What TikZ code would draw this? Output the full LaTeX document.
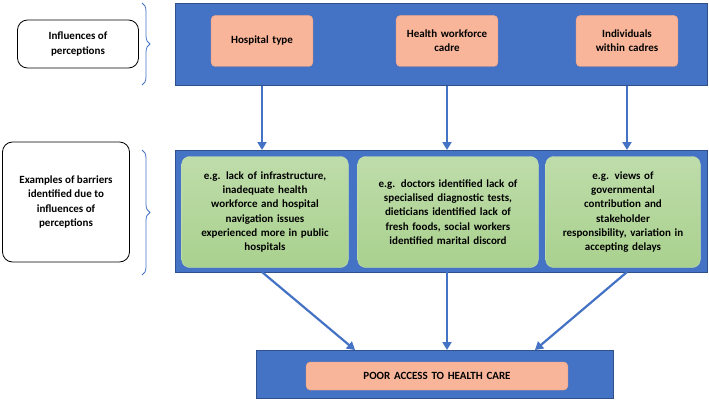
\documentclass[tikz,border=0pt]{standalone}
\usepackage{fontspec}
\setmainfont{Carlito}
\usetikzlibrary{decorations.pathreplacing,arrows.meta}
\definecolor{bandblue}{HTML}{4472C4}
\definecolor{peach}{HTML}{F8B59A}
\definecolor{peachline}{HTML}{F4A27E}
\definecolor{leaf}{HTML}{A9D18E}
\definecolor{leafline}{HTML}{C5E0B4}
\tikzset{
  band/.style={fill=bandblue, draw=bandblue!70!black, line width=1pt, minimum width=#1, anchor=north west, inner sep=0pt},
  factor/.style={fill=peach, draw=peachline, rounded corners=4pt, align=center, font=\bfseries\fontsize{11}{14}\selectfont, text width=#1},
  barrier/.style={top color=leaf!75!white, bottom color=leaf, draw=leafline, rounded corners=8pt, align=center, font=\bfseries\fontsize{11}{14.2}\selectfont, minimum height=111pt},
  tag/.style={draw, thick, rounded corners=10pt, align=center, font=\bfseries\fontsize{11}{14.2}\selectfont},
  flow/.style={-{Triangle[length=8pt,width=9pt]}, line width=2.2pt, draw=bandblue},
  brace/.style={decorate, decoration={brace, amplitude=8pt}, draw=bandblue, thick}
}
\begin{document}
\begin{tikzpicture}[x=1pt,y=-1pt]
  \useasboundingbox (0,0) rectangle (709,401);
  % bands
  \node (top) [band=532pt, minimum height=82pt] at (175,3) {};
  \node (mid) [band=532pt, minimum height=122pt] at (175,150) {};
  \node (bot) [band=357pt, minimum height=48pt] at (256,350) {};
  % influences
  \node (hosp) [factor=95pt, minimum height=51pt] at (262,41) {Hospital type};
  \node (cadre) [factor=95pt, minimum height=51pt] at (447,41) {Health workforce\\cadre};
  \node (indiv) [factor=95pt, minimum height=51pt] at (627,41) {Individuals\\within cadres};
  % barriers
  \node (b1) [barrier, text width=160pt] at (265,212) {e.g. lack of infrastructure,\\inadequate health\\workforce and hospital\\navigation issues\\experienced more in public\\hospitals};
  \node (b2) [barrier, text width=174pt] at (448,212) {e.g. doctors identified lack of\\specialised diagnostic tests,\\dieticians identified lack of\\fresh foods, social workers\\identified marital discord};
  \node (b3) [barrier, text width=148pt] at (623,212) {e.g. views of\\governmental\\contribution and\\stakeholder\\responsibility, variation in\\accepting delays};
  \node (poor) [factor=255pt, minimum height=28pt] at (437,376) {POOR ACCESS TO HEALTH CARE};
  % labels at left
  \node (lab1) [tag, minimum width=121pt, minimum height=48pt] at (78,44) {Influences of\\perceptions};
  \node (lab2) [tag, minimum width=127pt, minimum height=120pt] at (66,202) {Examples of barriers\\identified due to\\influences of\\perceptions};
  \draw[brace] (142,3) -- (142,85);
  \draw[brace] (142,150) -- (142,275);
  % arrows
  \draw[flow] (hosp.south |- top.south) -- (hosp.south |- mid.north);
  \draw[flow] (cadre.south |- top.south) -- (cadre.south |- mid.north);
  \draw[flow] (indiv.south |- top.south) -- (indiv.south |- mid.north);
  \draw[flow] (262,272) -- (355,350);
  \draw[flow] (447,272) -- (447,350);
  \draw[flow] (627,272) -- (535,350);
\end{tikzpicture}
\end{document}
